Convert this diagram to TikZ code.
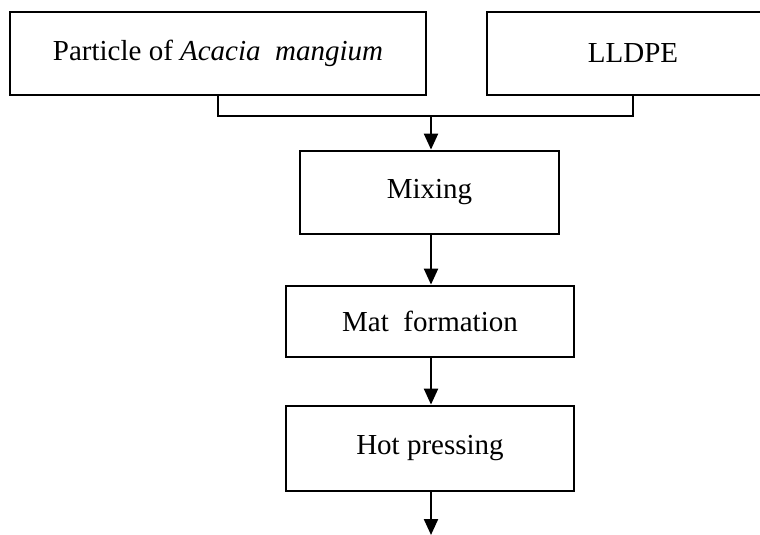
\documentclass[tikz,border=0pt]{standalone}
\usepackage{fontspec}
\setmainfont{Liberation Serif}
\usetikzlibrary{arrows.meta}
\begin{document}
\begin{tikzpicture}
        [
            x=0.5pt, y=-0.5pt,
            block/.style={rectangle, line width=1.4pt, draw=black, inner sep=0pt, font=\fontsize{14.5}{17}\selectfont},
            arr/.style={-{Triangle[length=8pt, width=7pt]}, line width=1.1pt}
        ]
        \useasboundingbox (0,0) rectangle (760,535);
        % inputs
        \node[block, minimum width=208pt, minimum height=41.5pt] (particle) at (218,53.5) {Particle\ of\ \textit{Acacia\ \ mangium}};
        \node[block, minimum width=146pt, minimum height=41.5pt] (lldpe) at (633,53.5) {LLDPE};
        \coordinate (join) at (431,116);
        \draw[line width=0.75pt] (particle.south) |- (join) -| (lldpe.south);
        % Mixing
        \node[block, minimum width=129.5pt, minimum height=41.5pt] (mix) at (429.5,192.5) {Mixing};
        \draw[arr] (join) -- (join |- mix.north);
        % Mat formation
        \node[block, minimum width=144pt, minimum height=35.5pt] (mat) at (430,321.5) {Mat\ \ formation};
        \draw[arr] (mix.south -| join) -- (join |- mat.north);
        % Hot pressing
        \node[block, minimum width=144pt, minimum height=42.5pt] (hot) at (430,448.5) {Hot pressing};
        \draw[arr] (mat.south -| join) -- (join |- hot.north);
        \coordinate (out) at (431,535);
        \draw[arr] (hot.south -| join) -- (out);
    \end{tikzpicture}
\end{document}
